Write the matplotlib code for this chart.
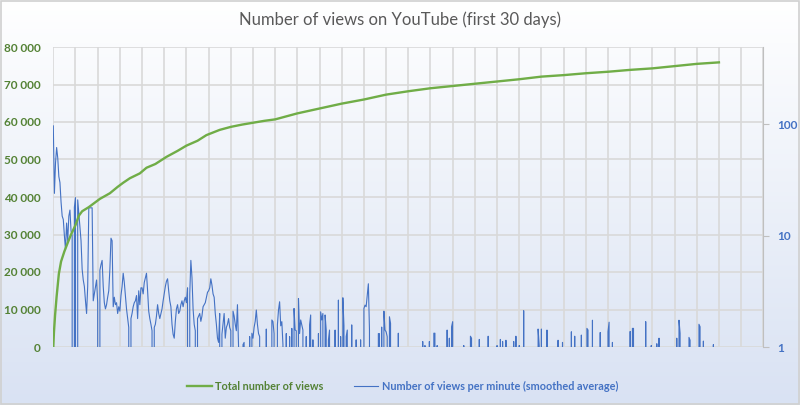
import numpy as np
import matplotlib
matplotlib.use('Agg')
from matplotlib import pyplot as plt
from matplotlib.ticker import FuncFormatter, FixedLocator, NullLocator

# total views, read at a few points along the curve (days, views)
total_days = [0, 0.03, 0.08, 0.15, 0.25, 0.35, 0.5, 0.65, 0.8, 1.0, 1.15, 1.3, 1.6,
              2.1, 2.55, 2.9, 3.15, 3.45, 3.9, 4.2, 4.6, 5.1, 5.6, 6.0, 6.5, 6.9,
              7.5, 8.0, 8.5, 9.0, 9.5, 10.0, 11.0, 12.0, 13.0, 14.0, 15.0, 16.0,
              17.0, 18.0, 19.0, 20.0, 21.0, 22.0, 23.0, 24.0, 25.0, 26.0, 27.0,
              28.0, 29.0, 30.0]
total_views = [0, 4000, 8500, 13500, 19500, 22800, 25500, 27800, 30000, 32500,
               35000, 36200, 37300, 39500, 41000, 42700, 43800, 45000, 46300,
               47800, 48800, 50700, 52300, 53700, 55000, 56500, 57900, 58700,
               59300, 59800, 60300, 60700, 62300, 63600, 64900, 66000, 67300,
               68200, 69000, 69600, 70200, 70800, 71400, 72100, 72500, 73000,
               73400, 73900, 74300, 74900, 75500, 75900]

# views per minute (smoothed), one value every 0.05 day, one row per day
per_min_rows = [
    [97, 24, 45, 62, 50, 34, 30, 20, 15, 14, 10, 7.5, 13, 9, 15, 17, 11, 10, 0, 18],
    [22, 0, 21, 16, 12, 9, 5, 4, 3.5, 2.6, 2.0, 3.5, 17.8, 17.8, 17.8, 17.8, 2.6, 3, 3.5, 4],
    [2.5, 0, 4.9, 5.5, 6, 3.5, 2.5, 2.2, 2.4, 2.8, 3.2, 5, 9.5, 9, 2.3, 2.8, 2.4, 2.5, 2.0, 2.3],
    [2.1, 2.9, 3.5, 4.6, 3.8, 2.9, 2.2, 1.8, 1.5, 0, 1.8, 2.0, 2.3, 2.5, 2.6, 2.9, 1.8, 3.2, 2.4, 3.4],
    [3.4, 3.0, 3.8, 4.2, 4.6, 3.2, 2.1, 1.8, 1.6, 1.4, 0, 1.5, 1.6, 1.9, 2.4, 2.0, 1.8, 2.0, 2.2, 2.6],
    [3.0, 3.5, 3.9, 4.1, 3.2, 2.6, 2.3, 1.6, 1.3, 1.2, 1.7, 2.2, 2.4, 2.0, 2.1, 2.4, 2.6, 2.3, 2.6, 2.8],
    [2.5, 3.4, 0, 3.0, 6.0, 4.2, 2.2, 1.6, 1.4, 0, 1.8, 1.9, 2.0, 1.7, 1.9, 2.3, 2.4, 2.5, 2.8, 3.1],
    [3.2, 3.4, 4.1, 3.6, 3.0, 2.8, 2.0, 1.6, 1.2, 1.1, 2.0, 0, 1.3, 1.6, 2.0, 1.2, 1.5, 1.6, 1.8, 1.5],
    [1.4, 0, 2.1, 1.9, 1.6, 1.4, 2.4, 1.0, 0, 0, 0, 1.05, 1.1, 0, 0, 0, 0, 1.24, 0, 1.33],
    [1.2, 1.5, 1.7, 2.15, 1.6, 1.32, 1.24, 0, 0, 0, 0, 0, 1.45, 0, 0, 0, 0, 1.75, 1.69, 1.32],
    [0, 0, 1.58, 2.15, 2.55, 1.55, 1.69, 1.05, 0, 0, 1.32, 0, 0, 1.24, 0, 1.47, 0, 2.22, 1.42, 1.4],
    [0, 2.73, 1.32, 1.75, 1.58, 1.42, 0, 0, 1.24, 0, 0, 1.58, 1.94, 0, 1.16, 0, 0, 0, 0, 1.32],
    [0, 2.07, 1.75, 2.0, 0, 1.94, 1.42, 0, 1.16, 1.42, 0, 0, 0, 0, 1.42, 0, 0, 2.64, 0, 1.24],
    [0, 2.77, 1.55, 0, 1.24, 1.42, 0, 0, 0, 1.58, 0, 0, 0, 1.16, 0, 0, 0, 1.16, 0, 0],
    [2.22, 2.38, 2.3, 2.93, 3.7, 1.42, 0, 0, 0, 0, 0, 0, 0, 1.32, 1.32, 0, 1.51, 0, 2.1, 1.42],
    [1.37, 1.24, 0, 1.87, 1.63, 0, 0, 0, 0, 0, 0, 1.33, 0, 0, 0, 0, 0, 0, 0, 0],
    [0, 0, 0, 0, 0, 0, 0, 0, 0, 0, 0, 0, 0, 1.12, 0, 1.03, 0, 0, 0, 1.12],
    [0, 0, 0, 1.33, 1.33, 0, 1.03, 0, 0, 0, 0, 0, 0, 0, 0, 1.42, 0, 1.2, 0, 1.52],
    [1.69, 0, 0, 0, 0, 0, 0, 0, 0, 0, 1.03, 0, 0, 0, 0, 0, 1.25, 1.2, 0, 0],
    [0, 0, 0, 0, 1.17, 0, 0, 0, 0, 0, 0, 0, 1.25, 0, 0, 0, 0, 0, 0, 0],
    [1.03, 0, 0, 1.17, 0, 1.12, 0, 0, 1.15, 0, 0, 0, 0, 0, 0, 1.12, 0, 1.25, 0, 0],
    [1.03, 0, 0, 0, 2.12, 0, 0, 0, 0, 0, 0, 0, 0, 0, 0, 0, 0, 1.45, 1.03, 0],
    [1.45, 0, 0, 0, 0, 1.42, 0, 0, 0, 0, 0, 0, 0, 0, 0, 1.15, 0, 0, 0, 1.1],
    [0, 0, 0, 0, 0, 0, 0, 1.37, 0, 0, 1.25, 0, 0, 0, 0, 0, 1.28, 0, 0, 0],
    [0, 1.47, 1.42, 0, 0, 0, 1.74, 0, 0, 0, 0, 0, 0, 1.35, 0, 0, 0, 0, 0, 0],
    [1.37, 1.67, 0, 0, 1.1, 0, 0, 0, 0, 0, 0, 0, 0, 0, 0, 0, 0, 0, 0, 0],
    [1.38, 0, 1.47, 1.47, 0, 0, 0, 0, 0, 0, 0, 0, 0, 0, 1.69, 0, 0, 0, 0, 1.03],
    [0, 0, 0, 0, 1.07, 0, 1.2, 0, 0, 0, 0, 0, 0, 0, 0, 0, 0, 0, 0, 0],
    [0, 0, 1.2, 0, 1.74, 1.33, 0, 0, 0, 0, 0, 0, 0, 1.22, 1.15, 0, 0, 0, 0, 0],
    [0, 0, 1.6, 1.52, 0, 0, 1.13, 0, 0, 0, 0, 0, 0, 0, 0, 1.05, 0, 0, 0, 0],
    [0],
]
per_min = [v for row in per_min_rows for v in row]
per_min_days = np.arange(len(per_min)) * 0.05

green = '#70AD47'
green_txt = '#548235'
blue = '#4472C4'
grid_c = '#D9D9D9'

plt.rcParams['font.family'] = ['Lato', 'DejaVu Sans']

fig = plt.figure(figsize=(8, 4.05), dpi=100)

# background gradient like the excel chart area
bg = fig.add_axes([0, 0, 1, 1], zorder=-10)
grad = np.linspace(0, 1, 256)[:, None]
top = np.array([1.0, 1.0, 1.0])
bot = np.array([217, 226, 243]) / 255
img = top + (bot - top) * grad[..., None]
bg.imshow(np.repeat(img, 2, axis=1), aspect='auto', extent=[0, 1, 0, 1])
bg.add_patch(plt.Rectangle((0.001, 0.002), 0.998, 0.996, fill=False,
                           ec='#D0D0D0', lw=1.2, transform=bg.transAxes))
bg.axis('off')

pos = [53.3 / 800, 58 / 405, 710 / 800, 300 / 405]
ax = fig.add_axes(pos)
ax.patch.set_alpha(0)
ax.set_xlim(0, 32)
ax.set_ylim(0, 80000)
ax.xaxis.set_major_locator(FixedLocator(range(0, 33)))
ax.set_xticklabels([])
ax.tick_params(axis='x', length=0)
ax.yaxis.set_major_locator(FixedLocator(range(0, 80001, 10000)))
ax.yaxis.set_major_formatter(FuncFormatter(lambda v, p: f'{int(v):,}'.replace(',', ' ')))
ax.tick_params(axis='y', length=0, pad=9, labelsize=8.5, labelcolor=green_txt)
for t in ax.get_yticklabels():
    t.set_fontweight('bold')
ax.grid(True, color=grid_c, lw=1.2)
for s in ax.spines.values():
    s.set_visible(False)

# views per minute on the log axis
ax2 = ax.twinx()
ax2.set_zorder(ax.get_zorder() + 1)
ax2.patch.set_alpha(0)
ax2.set_yscale('log')
ax2.set_ylim(1, 496)
ax2.yaxis.set_major_locator(FixedLocator([1, 10, 100]))
ax2.yaxis.set_minor_locator(NullLocator())
ax2.yaxis.set_major_formatter(FuncFormatter(lambda v, p: f'{int(v)}'))
ax2.tick_params(axis='y', length=4, color='#BFBFBF', pad=6, labelsize=8.5, labelcolor=blue)
for t in ax2.get_yticklabels():
    t.set_fontweight('bold')
for s in ax2.spines.values():
    s.set_visible(False)
ax2.spines['right'].set_visible(True)
ax2.spines['right'].set_color('#BFBFBF')
l2, = ax2.plot(per_min_days, per_min, color=blue, lw=0.8,
               label='Number of views per minute (smoothed average)')

# total views on top
ax3 = ax.twinx()
ax3.set_zorder(ax2.get_zorder() + 1)
ax3.patch.set_alpha(0)
ax3.set_ylim(0, 80000)
ax3.set_yticks([])
for s in ax3.spines.values():
    s.set_visible(False)
l1, = ax3.plot(total_days, total_views, color=green, lw=1.7,
               label='Total number of views')

fig.text(0.5, 1 - 20 / 405, 'Number of views on YouTube (first 30 days)',
         ha='center', va='center', fontsize=12, color='#595959')

leg = fig.legend(handles=[l1, l2], loc='center', bbox_to_anchor=(0.503, 1 - 386 / 405),
                 ncol=2, frameon=False, fontsize=7.8, handlelength=2.3,
                 columnspacing=2.8, handletextpad=0.3)
for txt, c in zip(leg.get_texts(), [green_txt, blue]):
    txt.set_color(c)
    txt.set_fontweight('bold')

fig.savefig('out.png', dpi=100)
